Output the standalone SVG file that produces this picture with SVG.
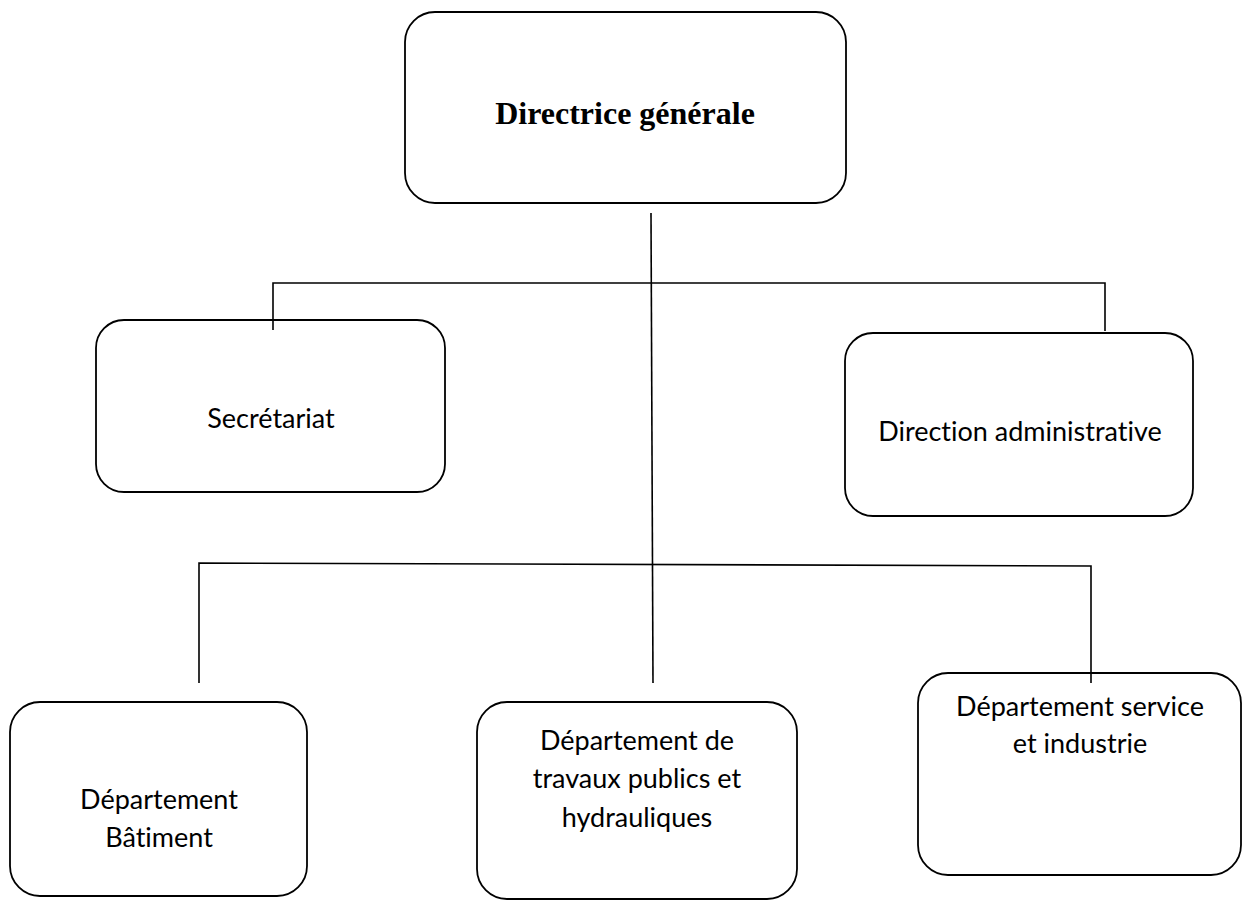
<svg xmlns="http://www.w3.org/2000/svg" width="1243" height="900" viewBox="0 0 1243 900">
<style>
.box{fill:none;stroke:#000;stroke-width:1.8}
.lbl{font-family:Lato,"Open Sans",sans-serif;font-size:27px;fill:#000;text-anchor:middle;font-variant-ligatures:none}
.title{font-family:"Liberation Serif","Times New Roman",serif;font-weight:bold;font-size:32px;fill:#000;text-anchor:middle}
.conn{fill:none;stroke:#000;stroke-width:1.6}
</style>
<rect width="1243" height="900" fill="#fff"/>
<g id="n-directrice">
<rect class="box" x="405" y="12" width="441" height="191" rx="30" ry="30"/>
<text class="title" x="625" y="124">Directrice générale</text>
</g>
<g id="n-secretariat">
<rect class="box" x="96" y="320" width="349" height="172" rx="28" ry="28"/>
<text class="lbl" x="271" y="428">Secrétariat</text>
</g>
<g id="n-direction-admin">
<rect class="box" x="845" y="333" width="348" height="183" rx="28" ry="28"/>
<text class="lbl" x="1020" y="441">Direction administrative</text>
</g>
<g id="n-batiment">
<rect class="box" x="10" y="702" width="297" height="194" rx="30" ry="30"/>
<text class="lbl" x="159" y="809">Département</text>
<text class="lbl" x="159" y="847">Bâtiment</text>
</g>
<g id="n-travaux">
<rect class="box" x="477" y="702" width="320" height="197" rx="30" ry="30"/>
<text class="lbl" x="637" y="750">Département de</text>
<text class="lbl" x="637" y="788">travaux publics et</text>
<text class="lbl" x="637" y="827">hydrauliques</text>
</g>
<g id="n-service">
<rect class="box" x="918" y="673" width="323" height="202" rx="30" ry="30"/>
<text class="lbl" x="1080" y="716">Département service</text>
<text class="lbl" x="1080" y="753">et industrie</text>
</g>
<g id="connectors">
<line class="conn" x1="651" y1="213" x2="653" y2="683"/>
<polyline class="conn" points="273,330 273,283 1105,283 1105,331"/>
<polyline class="conn" points="199,683 199,563 1091,566 1091,683"/>
</g>
</svg>
